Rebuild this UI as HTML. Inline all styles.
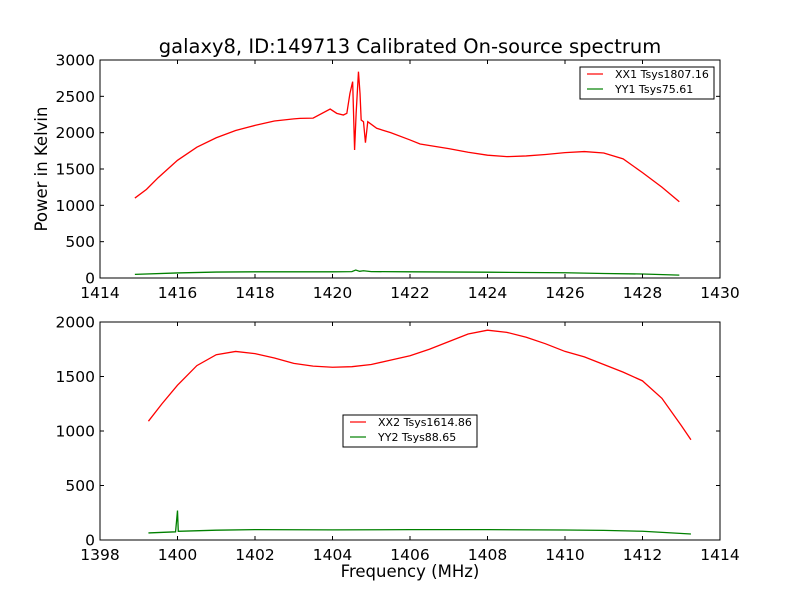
<!DOCTYPE html>
<html><head><meta charset="utf-8"><style>
body{margin:0;background:#fff;}
svg text{font-family:"DejaVu Sans","Liberation Sans",sans-serif;fill:#000;}
</style></head><body>
<svg id="chart" width="800" height="600" xmlns="http://www.w3.org/2000/svg">
<rect width="800" height="600" fill="#fff"/>
<text x="410" y="53" font-size="19.5" text-anchor="middle">galaxy8, ID:149713 Calibrated On-source spectrum</text>
<text x="0" y="0" font-size="16.5" text-anchor="middle" transform="translate(47,169) rotate(-90)">Power in Kelvin</text>
<text x="410" y="577" font-size="16.5" text-anchor="middle">Frequency (MHz)</text>
<g id="top"></g>
<g id="bot"></g>
</svg>
<script>
// Top panel data
const xx1Freq = [1414.9,1415.2,1415.5,1416,1416.5,1417,1417.5,1418,1418.5,1419,1419.16,1419.5,1419.94,1420.11,1420.28,1420.37,1420.45,1420.52,1420.57,1420.61,1420.67,1420.71,1420.74,1420.8,1420.85,1420.91,1421.14,1421.5,1422,1422.26,1423,1423.5,1424,1424.5,1425,1425.5,1426,1426.5,1427,1427.5,1428,1428.5,1428.95];
const xx1Vals = [1100,1220,1380,1620,1800,1930,2030,2100,2160,2190,2197,2200,2325,2266,2243,2266,2541,2702,1761,2266,2839,2541,2174,2151,1862,2151,2060,2000,1900,1844,1780,1730,1690,1670,1680,1700,1725,1740,1720,1640,1450,1250,1050];
const yy1Freq = [1414.9,1416,1417,1418,1419,1420,1420.5,1420.6,1420.7,1420.8,1421,1422,1424,1426,1427,1428,1428.95];
const yy1Vals = [50,70,82,85,85,85,88,110,92,100,88,85,80,72,62,55,40];
// Bottom panel data
const xx2Freq = [1399.25,1399.6,1400,1400.5,1401,1401.5,1402,1402.5,1403,1403.5,1404,1404.5,1405,1405.5,1406,1406.5,1407,1407.5,1408,1408.5,1409,1409.5,1410,1410.5,1411,1411.5,1412,1412.5,1413,1413.25];
const xx2Vals = [1090,1250,1420,1600,1700,1730,1710,1670,1620,1595,1585,1590,1610,1650,1690,1750,1820,1890,1925,1905,1860,1800,1730,1680,1610,1540,1460,1300,1050,920];
const yy2Freq = [1399.25,1399.95,1400,1400.02,1401,1402,1404,1406,1408,1410,1411,1412,1413.25];
const yy2Vals = [65,75,270,80,90,95,93,95,95,92,88,80,55];
const topXTicks = [1414,1416,1418,1420,1422,1424,1426,1428,1430];
const topYTicks = [0,500,1000,1500,2000,2500,3000];
const botXTicks = [1398,1400,1402,1404,1406,1408,1410,1412,1414];
const botYTicks = [0,500,1000,1500,2000];
const topLegend = ["XX1 Tsys1807.16","YY1 Tsys75.61"];
const botLegend = ["XX2 Tsys1614.86","YY2 Tsys88.65"];
const NS="http://www.w3.org/2000/svg";
function mk(tag,attrs,parent){const e=document.createElementNS(NS,tag);for(const k in attrs)e.setAttribute(k,attrs[k]);parent.appendChild(e);return e;}
function panel(g,top,bottom,xmin,xmax,ymin,ymax,xt,yt,series,legend,lx,ly,prefix){
  const L=100,R=720;
  const sx=v=>L+(v-xmin)/(xmax-xmin)*(R-L);
  const sy=v=>bottom-(v-ymin)/(ymax-ymin)*(bottom-top);
  series.forEach((s,i)=>{
    const p=mk('polyline',{points:s.x.map((v,j)=>sx(v)+','+sy(s.y[j])).join(' '),fill:'none',stroke:s.c,'stroke-width':1.3},g);
    
    
  });
  const f=mk('rect',{x:L,y:top,width:R-L,height:bottom-top,fill:'none',stroke:'#000','stroke-width':1},g);
  
  
  xt.forEach(v=>{const x=sx(v);
    mk('line',{x1:x,x2:x,y1:bottom,y2:bottom-4,stroke:'#000'},g);
    mk('line',{x1:x,x2:x,y1:top,y2:top+4,stroke:'#000'},g);
    const t=mk('text',{x:x,y:bottom+20,'font-size':15.5,'text-anchor':'middle'},g);t.textContent=v;
    
    
  });
  yt.forEach(v=>{const y=sy(v);
    mk('line',{x1:L,x2:L+4,y1:y,y2:y,stroke:'#000'},g);
    mk('line',{x1:R,x2:R-4,y1:y,y2:y,stroke:'#000'},g);
    const t=mk('text',{x:L-5,y:y+5.5,'font-size':15.5,'text-anchor':'end'},g);t.textContent=v;
    
    
  });
  const lg=mk('g',{},g);
  
  
  mk('rect',{x:lx,y:ly,width:134,height:32,fill:'#fff',stroke:'#000'},lg);
  legend.forEach((name,i)=>{const y=ly+7+i*15;
    mk('line',{x1:lx+7,x2:lx+23,y1:y,y2:y,stroke:series[i].c,'stroke-width':1.2},lg);
    const t=mk('text',{x:lx+35,y:y+4,'font-size':11},lg);t.textContent=name;
    
    
  });
}
panel(document.getElementById('top'),60,278,1414,1430,0,3000,topXTicks,topYTicks,
  [{x:xx1Freq,y:xx1Vals,c:'#ff0000'},{x:yy1Freq,y:yy1Vals,c:'#008000'}],topLegend,580,67,'top');
panel(document.getElementById('bot'),322,540,1398,1414,0,2000,botXTicks,botYTicks,
  [{x:xx2Freq,y:xx2Vals,c:'#ff0000'},{x:yy2Freq,y:yy2Vals,c:'#008000'}],botLegend,343,415,'bottom');
</script>
</body></html>
